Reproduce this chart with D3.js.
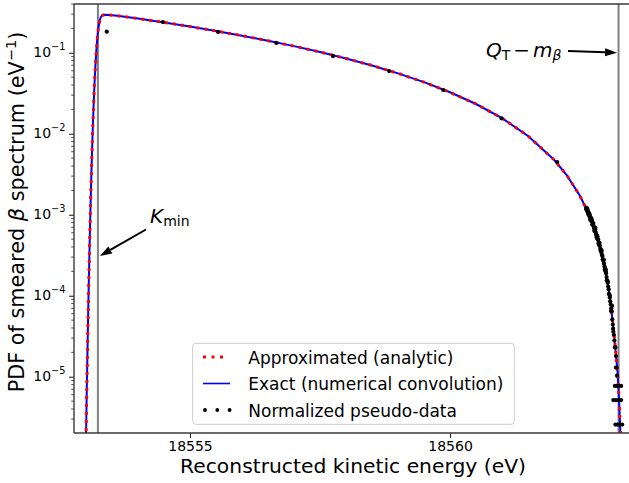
<!DOCTYPE html>
<html><head><meta charset="utf-8">
<script src="https://cdn.jsdelivr.net/npm/d3@7"></script>
<style>
html,body{margin:0;padding:0;background:#fff;}
svg{display:block;font-family:"DejaVu Sans",sans-serif;}
</style></head><body>
<svg id="chart" width="629" height="483"></svg>
<script>
// ---------- data ----------
const curveEnergy = [18553.00,18553.02,18553.04,18553.06,18553.08,18553.10,18553.12,18553.14,18553.16,18553.18,
  18553.20,18553.22,18553.24,18553.26,18553.28,18553.30,18553.33,18553.37,18553.45,18553.60,
  18554.0,18554.5,18555.0,18555.5,18556.0,18556.5,18557.0,18557.5,18558.0,18558.5,
  18559.0,18559.5,18560.0,18560.5,18561.0,18561.5,18562.0,18562.25,18562.5,18562.65,
  18562.8,18562.9,18563.0,18563.05,18563.10,18563.15,18563.19,18563.22,18563.24,18563.26,18563.28];
const approxPdf = [1.7e-6,9.9e-6,5.0e-5,2.15e-4,8.0e-4,2.57e-3,7.1e-3,1.72e-2,3.61e-2,6.64e-2,
  0.108,0.157,0.203,0.243,0.270,0.284,0.292,0.294,0.292,0.286,
  0.265,0.237,0.2105,0.1857,0.1625,0.1408,0.1207,0.1021,0.0851,0.0697,
  0.0557,0.0434,0.0325,0.0233,0.01556,0.00939,0.00477,0.00304,0.00170,0.00108,
  6.05e-4,3.63e-4,1.86e-4,1.22e-4,6.9e-5,3.4e-5,1.9e-5,1.15e-5,7.0e-6,3.6e-6,1.6e-6];
const exactPdf = [1.7e-6,9.9e-6,5.0e-5,2.15e-4,8.0e-4,2.57e-3,7.1e-3,1.72e-2,3.61e-2,6.64e-2,
  0.108,0.157,0.203,0.243,0.270,0.284,0.292,0.294,0.292,0.286,
  0.265,0.237,0.2105,0.1857,0.1625,0.1408,0.1207,0.1021,0.0851,0.0697,
  0.0557,0.0434,0.0325,0.0233,0.01556,0.00939,0.00477,0.00304,0.00170,0.00108,
  6.05e-4,3.63e-4,1.86e-4,1.22e-4,6.9e-5,3.4e-5,1.9e-5,1.15e-5,7.0e-6,3.6e-6,1.6e-6];
const dataEnergy = [18553.40,18554.48,18555.54,18556.66,18557.75,18558.83,18559.87,18560.99,18562.06,
  18562.62,18562.63,18562.64,18562.65,18562.66,18562.67,18562.68,18562.69,18562.70,18562.71,
  18562.72,18562.73,18562.74,18562.75,18562.76,18562.77,18562.78,18562.79,18562.80,18562.81,
  18562.82,18562.83,18562.84,18562.85,18562.86,18562.87,18562.88,18562.89,18562.90,18562.91,
  18562.92,18562.93,18562.94,18562.95,18562.96,18562.97,18562.98,18562.99,18563.00,18563.01,
  18563.02,18563.03,18563.04,18563.05,18563.06,18563.07,18563.08,18563.09,18563.10,18563.11,
  18563.12,18563.13,18563.14,18563.16,18563.17,18563.19,18563.20,18563.21,
  18562.615,18562.635,18562.655,18562.675,18562.695,18562.715,18562.735,18562.755,18562.775,18562.795,
  18562.815,18562.835,18562.855,18562.875,18562.895,18562.915,18562.935,18562.955,18562.975,18562.995,
  18563.015,18563.035,18563.055,18563.075,18563.095,18563.115,18563.135,18563.15,18563.18,18563.19,
  18563.17,18563.21,18563.25,18563.29,
  18563.14,18563.19,18563.24,18563.29,
  18563.18,18563.22,18563.26,18563.31];
const dataPdf = [0.182,0.239,0.181,0.132,0.091,0.0594,0.0347,0.0155,0.00448,
  1.22e-3,1.15e-3,1.10e-3,1.13e-3,1.04e-3,1.01e-3,9.6e-4,9.9e-4,9.0e-4,8.9e-4,
  8.3e-4,8.6e-4,7.7e-4,7.6e-4,7.3e-4,6.8e-4,6.5e-4,6.6e-4,6.1e-4,5.7e-4,
  5.6e-4,5.1e-4,5.0e-4,4.9e-4,4.5e-4,4.2e-4,4.1e-4,3.8e-4,3.7e-4,3.4e-4,
  3.2e-4,3.1e-4,2.8e-4,2.7e-4,2.5e-4,2.3e-4,2.2e-4,2.0e-4,1.9e-4,1.7e-4,
  1.55e-4,1.45e-4,1.3e-4,1.2e-4,1.05e-4,9.5e-5,8.5e-5,7.8e-5,7.0e-5,6.4e-5,
  5.1e-5,4.4e-5,3.6e-5,2.8e-5,2.3e-5,1.8e-5,1.3e-5,1.03e-5,
  1.18e-3,1.20e-3,1.02e-3,1.05e-3,8.7e-4,9.1e-4,7.5e-4,7.9e-4,6.3e-4,6.9e-4,
  5.3e-4,5.4e-4,4.4e-4,4.5e-4,3.6e-4,3.6e-4,2.8e-4,2.8e-4,2.1e-4,2.1e-4,
  1.55e-4,1.5e-4,1.05e-4,1.0e-4,6.5e-5,7.5e-5,3.9e-5,3.3e-5,2.3e-5,1.3e-5,
  7.7e-6,7.7e-6,7.7e-6,7.7e-6,
  5.15e-6,5.15e-6,5.15e-6,5.15e-6,
  2.57e-6,2.57e-6,2.57e-6,2.57e-6];
const xTickValues = [18555, 18560];
const yTickValues = [1e-5, 1e-4, 1e-3, 1e-2, 1e-1];
const kMin = 18553.23;
const qMinusM = 18563.24;
const legendLabels = ["Approximated (analytic)", "Exact (numerical convolution)", "Normalized pseudo-data"];
const xLabel = "Reconstructed kinetic energy (eV)";

// ---------- layout ----------
const L = 74, R = 630, T = 4, B = 433;
const svg = d3.select("#chart");
const x = d3.scaleLinear().domain([18552.77, 18563.46]).range([L, R]);
const y = d3.scaleLog().domain([2.02e-6, 0.4]).range([B, T]);

svg.append("defs").append("clipPath").attr("id", "clip")
  .append("rect").attr("x", L).attr("y", T).attr("width", R - L).attr("height", B - T);

const plot = svg.append("g").attr("clip-path", "url(#clip)");

// vertical reference lines
[kMin, qMinusM].forEach(v => {
  plot.append("line").attr("x1", x(v)).attr("x2", x(v)).attr("y1", T).attr("y2", B)
    .attr("stroke", "#808080").attr("stroke-width", 2);
});

const line = d3.line().x(d => x(d[0])).y(d => y(d[1]));
const exactPts = curveEnergy.map((e, i) => [e, exactPdf[i]]);
const approxPts = curveEnergy.map((e, i) => [e, approxPdf[i]]);

plot.append("path").attr("d", line(exactPts)).attr("fill", "none")
  .attr("stroke", "#0000ff").attr("stroke-width", 2);
plot.append("path").attr("d", line(approxPts)).attr("fill", "none")
  .attr("stroke", "#ff0000").attr("stroke-width", 3).attr("stroke-dasharray", "3,5");

plot.selectAll("circle.pd").data(dataEnergy.map((e, i) => [e, dataPdf[i]])).enter()
  .append("circle").attr("class", "pd")
  .attr("cx", d => x(d[0])).attr("cy", d => y(d[1])).attr("r", 2.1).attr("fill", "#000");

// ---------- axes ----------
const xAxis = d3.axisBottom(x).tickValues(xTickValues).tickSize(4.9).tickPadding(3.5).tickFormat(d3.format("d"));
const gx = svg.append("g").attr("transform", `translate(0,${B})`).call(xAxis);
gx.select(".domain").remove();
gx.selectAll("line").attr("stroke", "#222").attr("stroke-width", 1.1);
gx.selectAll("text").attr("font-size", 14).attr("font-family", "DejaVu Sans").attr("fill", "#000");

const yAxis = d3.axisLeft(y).tickValues(yTickValues).tickSize(4.9).tickFormat("");
const gy = svg.append("g").attr("transform", `translate(${L},0)`).call(yAxis);
gy.select(".domain").remove();
gy.selectAll("line").attr("stroke", "#222").attr("stroke-width", 1.1);
// minor ticks
const minor = [];
for (let k = -6; k <= -1; k++) for (let m = 2; m <= 9; m++) {
  const v = m * Math.pow(10, k);
  if (v >= y.domain()[0] && v <= y.domain()[1]) minor.push(v);
}
gy.selectAll("line.minor").data(minor).enter().append("line").attr("class", "minor")
  .attr("x1", 0).attr("x2", -2.8).attr("y1", d => y(d)).attr("y2", d => y(d))
  .attr("stroke", "#222").attr("stroke-width", 0.8);
// tick labels 10^k
yTickValues.forEach(v => {
  const k = Math.round(Math.log10(v));
  const t = svg.append("text").attr("x", L - 8.5).attr("y", y(v) + 4.6)
    .attr("text-anchor", "end").attr("font-size", 14).attr("fill", "#000");
  t.append("tspan").text("10");
  t.append("tspan").attr("dy", -7.6).attr("font-size", 9.8).text((k < 0 ? "\u2212" : "") + Math.abs(k));
});

// spines
const spine = svg.append("g").attr("stroke", "#3a3a3a").attr("stroke-width", 1.4).attr("fill", "none");
spine.append("line").attr("x1", L).attr("x2", L).attr("y1", T).attr("y2", B);
spine.append("line").attr("x1", L).attr("x2", R).attr("y1", B).attr("y2", B);
spine.append("line").attr("x1", L).attr("x2", R).attr("y1", T).attr("y2", T);
spine.append("line").attr("x1", R).attr("x2", R).attr("y1", T).attr("y2", B);

// axis labels
svg.append("text").attr("x", 353).attr("y", 473).attr("text-anchor", "middle")
  .attr("font-size", 20.3).attr("fill", "#000").text(xLabel);
const yl = svg.append("text").attr("transform", "translate(24,212) rotate(-90)")
  .attr("text-anchor", "middle").attr("font-size", 20.8).attr("fill", "#000");
yl.append("tspan").text("PDF of smeared ");
yl.append("tspan").attr("font-style", "italic").text("\u03b2");
yl.append("tspan").text(" spectrum (eV");
yl.append("tspan").attr("dy", -8).attr("font-size", 14.5).text("\u22121");
yl.append("tspan").attr("dy", 8).text(")");

// ---------- annotations ----------
function arrow(x1, y1, x2, y2) {
  const a = Math.atan2(y2 - y1, x2 - x1), hl = 12, hw = 4;
  const bx = x2 - hl * Math.cos(a), by = y2 - hl * Math.sin(a);
  svg.append("line").attr("x1", x1).attr("y1", y1).attr("x2", bx).attr("y2", by)
    .attr("stroke", "#000").attr("stroke-width", 2);
  const px = -Math.sin(a) * hw, py = Math.cos(a) * hw;
  svg.append("path").attr("d", `M${x2},${y2}L${bx + px},${by + py}L${bx - px},${by - py}Z`).attr("fill", "#000");
}
arrow(146, 229.5, x(kMin) + 2, y(3.1e-4));
const kt = svg.append("text").attr("x", 150).attr("y", 222.7).attr("font-size", 20).attr("fill", "#000");
kt.append("tspan").attr("font-style", "italic").text("K");
kt.append("tspan").attr("dy", 3).attr("font-size", 14).text("min");

arrow(568, 51, x(qMinusM) - 1.5, y(0.1));
const qt = svg.append("text").attr("x", 486).attr("y", 56.7).attr("font-size", 20).attr("fill", "#000");
qt.append("tspan").attr("font-style", "italic").text("Q");
qt.append("tspan").attr("dy", 3.5).attr("font-size", 14).text("T");
qt.append("tspan").attr("dy", -3.5).attr("dx", 3).text("\u2212");
qt.append("tspan").attr("dx", 3).attr("font-style", "italic").text("m");
qt.append("tspan").attr("dy", 3.5).attr("font-size", 14).attr("font-style", "italic").text("\u03b2");

// ---------- legend ----------
const lg = svg.append("g");
lg.append("rect").attr("x", 192.7).attr("y", 343.3).attr("width", 321.6).attr("height", 81)
  .attr("rx", 3).attr("fill", "#fff").attr("fill-opacity", 0.8).attr("stroke", "#cccccc").attr("stroke-width", 1);
const rows = [357, 383.5, 410];
lg.append("line").attr("x1", 203).attr("x2", 226).attr("y1", rows[0]).attr("y2", rows[0])
  .attr("stroke", "#ff0000").attr("stroke-width", 3).attr("stroke-dasharray", "3,5.5");
lg.append("line").attr("x1", 203).attr("x2", 230).attr("y1", rows[1]).attr("y2", rows[1])
  .attr("stroke", "#0000ff").attr("stroke-width", 1.6);
[205, 217.3, 229.6].forEach(cx => lg.append("circle").attr("cx", cx).attr("cy", rows[2]).attr("r", 1.9).attr("fill", "#000"));
legendLabels.forEach((s, i) => lg.append("text").attr("x", 248.3).attr("y", rows[i] + 6.8)
  .attr("font-size", 17).attr("fill", "#000").text(s));
</script>
</body></html>
